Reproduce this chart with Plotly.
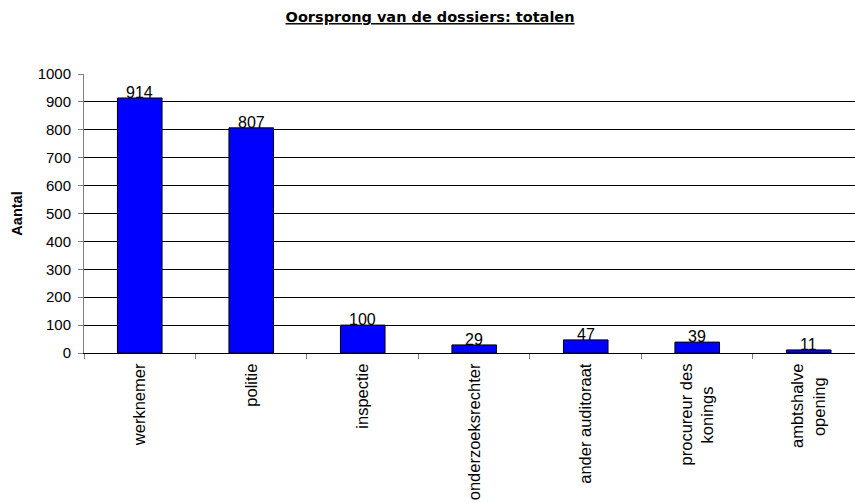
import plotly.graph_objects as go

categories = ["werknemer", "politie", "inspectie", "onderzoeksrechter",
              "ander auditoraat", "procureur des<br>konings\u00a0\u00a0\u00a0\u00a0\u00a0",
              "ambtshalve<br>opening\u00a0\u00a0\u00a0"]
values = [914, 807, 100, 29, 47, 39, 11]
y_ticks = [0, 100, 200, 300, 400, 500, 600, 700, 800, 900, 1000]

fig = go.Figure(go.Bar(
    x=categories, y=values,
    width=0.4,
    marker=dict(color="#0000FF", line=dict(color="#000000", width=1)),
    cliponaxis=False,
))

for c, v in zip(categories, values):
    fig.add_annotation(
        x=c, y=v, text=str(v), showarrow=False,
        yanchor="bottom", xanchor="center", yshift=-5,
        font=dict(family="Liberation Sans, Arial", size=16, color="#000"),
    )

fig.update_layout(
    width=855, height=503,
    margin=dict(l=84, r=0, t=74, b=150),
    paper_bgcolor="white", plot_bgcolor="white",
    showlegend=False,
    title=dict(
        text="<u>Oorsprong van de dossiers: totalen</u>",
        font=dict(family="DejaVu Sans", size=14.5, color="#000", weight="bold"),
        x=0.503, xref="container", xanchor="center",
        y=1 - 17 / 503, yref="container", yanchor="middle",
    ),
    font=dict(family="Liberation Sans, Arial", color="#000"),
)

fig.update_xaxes(
    type="category",
    range=[-0.5, 6.415],
    showline=True, linecolor="#000", linewidth=1,
    ticks="outside", tickson="boundaries", ticklen=5, tickcolor="#808080",
    tickangle=-90,
    ticklabelstandoff=3,
    tickfont=dict(family="Liberation Sans, Arial", size=16.5, color="#000"),
    showgrid=False,
    automargin=False,
)

fig.update_yaxes(
    range=[0, 1000],
    tickvals=y_ticks,
    showline=True, linecolor="#808080", linewidth=1,
    ticks="outside", ticklen=5, tickcolor="#808080",
    ticklabelstandoff=4,
    tickfont=dict(family="Liberation Sans, Arial", size=15, color="#000"),
    showgrid=True, gridcolor="#000", gridwidth=1,
    zeroline=False,
    automargin=False,
    title=dict(text="<b>Aantal</b>", standoff=11,
               font=dict(family="Liberation Sans, Arial", size=14.5, color="#000")),
)

fig.write_html(
    "out.html",
    config={"displayModeBar": False},
    post_script="document.body.style.margin='0';document.body.style.overflow='hidden';",
)
